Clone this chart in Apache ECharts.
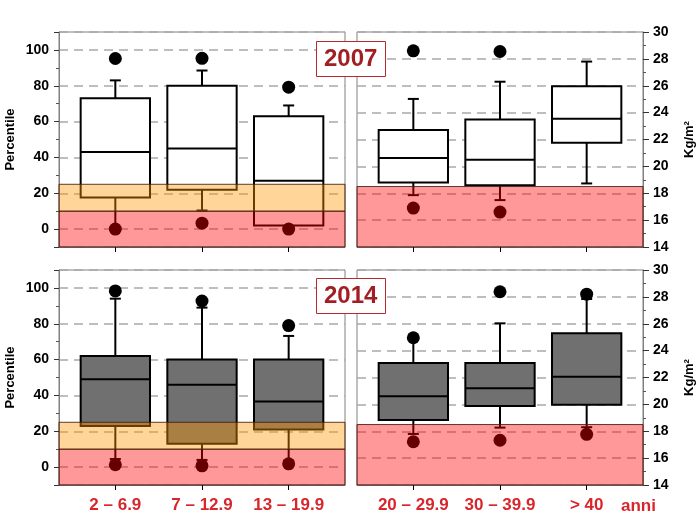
<!DOCTYPE html>
<html>
<head>
<meta charset="utf-8">
<script src="https://cdn.jsdelivr.net/npm/echarts@6.0.0/dist/echarts.min.js"></script>
<style>
html,body{margin:0;padding:0;background:#fff;}
#chart{width:696px;height:518px;}
</style>
</head>
<body>
<div id="chart"></div>
<script>
// ---------- DATA ----------
const categoriesLeft = ['2 \u2013 6.9', '7 \u2013 12.9', '13 \u2013 19.9'];
const categoriesRight = ['20 \u2013 29.9', '30 \u2013 39.9', '> 40'];
const unitLabel = 'anni';
const years = ['2007', '2014'];

// box stats: [min, q1, median, q3, max]
const box2007Pct = [
  [1, 17.6, 43, 73, 83],
  [10.4, 22, 45, 80, 88.5],
  [0.5, 2, 27, 63, 69]
];
const box2007Bmi = [
  [17.86, 18.8, 20.62, 22.71, 25.02],
  [17.49, 18.6, 20.5, 23.48, 26.3],
  [18.73, 21.76, 23.55, 25.97, 27.8]
];
const box2014Pct = [
  [4.5, 22.9, 49, 62, 94],
  [4, 13, 46, 60, 89],
  [3.5, 21, 36.6, 60, 73.2]
];
const box2014Bmi = [
  [17.8, 18.84, 20.6, 23.08, 24.8],
  [18.27, 19.88, 21.2, 23.08, 26.03],
  [18.3, 19.98, 22.05, 25.29, 27.84]
];

// outliers: [category position (1..3), value]
const outliers2007Pct = [[1, 95.2], [1, 0], [2, 95.3], [2, 3.3], [3, 79.2], [3, 0]];
const outliers2007Bmi = [[1, 28.6], [1, 16.9], [2, 28.55], [2, 16.6]];
const outliers2014Pct = [[1, 98.3], [1, 1.3], [2, 92.7], [2, 0.7], [3, 79], [3, 1.8]];
const outliers2014Bmi = [[1, 24.96], [1, 17.22], [2, 28.38], [2, 17.33], [3, 28.2], [3, 17.77]];

// reference bands: [low, high]
const redBandPct = [-10, 10];
const orangeBandPct = [10, 25];
const redBandBmi = [14, 18.5];

// axis ranges / ticks
const pctRange = [-10, 110];
const bmiRange = [14, 30];
const bmiStep = 2;
const pctStep = 20;
const catPositions = [1, 2, 3];
const xRange = [0.35, 3.65];

// ---------- STYLE ----------
const FONT = '"Liberation Sans", Arial, Helvetica, sans-serif';
const RED_LABEL = '#D8262C';
const TITLE_RED = '#A11F23';
const FRAME = '#808080';
const GRID_DASH = '#A9A9A9';
const RED_BAND = 'rgba(255,0,0,0.40)';
const ORANGE_BAND = 'rgba(255,150,0,0.40)';
const BAND_STROKE = 'rgba(70,25,10,0.85)';
const BOX_WIDTH = 0.8;

function boxRenderer(fill) {
  return function (params, api) {
    const x = api.value(0);
    const c = (v) => api.coord([x, v]);
    const pMin = c(api.value(1)), pQ1 = c(api.value(2)), pMed = c(api.value(3)),
          pQ3 = c(api.value(4)), pMax = c(api.value(5));
    const cx = pMin[0];
    const hw = api.size([BOX_WIDTH, 0])[0] / 2;
    const cap = 5.5;
    const ls = { stroke: '#000', lineWidth: 2 };
    return {
      type: 'group',
      children: [
        { type: 'line', shape: { x1: cx, y1: pMax[1], x2: cx, y2: pQ3[1] }, style: ls },
        { type: 'line', shape: { x1: cx - cap, y1: pMax[1], x2: cx + cap, y2: pMax[1] }, style: ls },
        { type: 'line', shape: { x1: cx, y1: pQ1[1], x2: cx, y2: pMin[1] }, style: ls },
        { type: 'line', shape: { x1: cx - cap, y1: pMin[1], x2: cx + cap, y2: pMin[1] }, style: ls },
        { type: 'rect', shape: { x: cx - hw, y: pQ3[1], width: 2 * hw, height: pQ1[1] - pQ3[1] },
          style: { fill: fill, stroke: '#000', lineWidth: 2 } },
        { type: 'line', shape: { x1: cx - hw, y1: pMed[1], x2: cx + hw, y2: pMed[1] }, style: ls }
      ]
    };
  };
}

function bandRenderer(color) {
  return function (params, api) {
    const cs = params.coordSys;
    const yHigh = api.coord([api.value(0), api.value(2)])[1];
    const yLow = api.coord([api.value(0), api.value(1)])[1];
    return {
      type: 'rect',
      shape: { x: cs.x, y: yHigh, width: cs.width, height: yLow - yHigh },
      style: { fill: color, stroke: BAND_STROKE, lineWidth: 1 }
    };
  };
}

const grids = [
  { left: 59, top: 32 }, { left: 357, top: 32 },
  { left: 59, top: 270 }, { left: 357, top: 270 }
].map(g => Object.assign({
  width: 286, height: 215, show: true, borderColor: FRAME, borderWidth: 1,
  backgroundColor: '#fff', containLabel: false, outerBoundsMode: 'none'
}, g));

const xAxes = [0, 1, 2, 3].map(i => ({
  gridIndex: i, type: 'value', min: xRange[0], max: xRange[1],
  axisLine: { show: true, onZero: false, lineStyle: { color: FRAME, width: 1 } },
  axisTick: { show: true, customValues: catPositions, length: 5, inside: false,
    lineStyle: { color: '#000', width: 1 } },
  axisLabel: {
    show: i >= 2, customValues: catPositions, margin: 12,
    color: RED_LABEL, fontSize: 17, fontWeight: 'bold', fontFamily: FONT,
    formatter: (v) => (i % 2 === 0 ? categoriesLeft : categoriesRight)[Math.round(v) - 1] || ''
  },
  splitLine: { show: false }
}));

function pctAxis(i) {
  return {
    gridIndex: i, type: 'value', position: 'left', min: pctRange[0], max: pctRange[1],
    splitNumber: 6, minInterval: pctStep, maxInterval: pctStep,
    axisLine: { show: true, lineStyle: { color: FRAME } },
    axisTick: { show: true, length: 5, lineStyle: { color: '#333' } },
    minorTick: { show: true, splitNumber: 2, length: 3, lineStyle: { color: '#555' } },
    axisLabel: { showMinLabel: false, showMaxLabel: false, fontWeight: 'bold', fontSize: 14,
      color: '#000', margin: 10, fontFamily: FONT },
    splitLine: { show: true, lineStyle: { color: GRID_DASH, type: [9, 6], width: 1.5 } },
    name: 'Percentile', nameLocation: 'middle', nameGap: 42,
    nameTextStyle: { fontWeight: 'bold', fontSize: 13, color: '#000', fontFamily: FONT }
  };
}
function bmiAxis(i) {
  return {
    gridIndex: i, type: 'value', position: 'right', min: bmiRange[0], max: bmiRange[1],
    interval: bmiStep,
    axisLine: { show: true, lineStyle: { color: FRAME } },
    axisTick: { show: true, length: 6, lineStyle: { color: '#333' } },
    minorTick: { show: true, splitNumber: 2, length: 3, lineStyle: { color: '#555' } },
    axisLabel: { fontWeight: 'bold', fontSize: 14, color: '#000', margin: 10, fontFamily: FONT },
    splitLine: { show: true, lineStyle: { color: GRID_DASH, type: [9, 6], width: 1.5 } },
    name: 'Kg/m\u00B2', nameLocation: 'middle', nameGap: 40,
    nameTextStyle: { fontWeight: 'bold', fontSize: 13, color: '#000', fontFamily: FONT }
  };
}
const yAxes = [pctAxis(0), bmiAxis(1), pctAxis(2), bmiAxis(3)];

const panels = [
  { boxes: box2007Pct, outliers: outliers2007Pct, fill: '#ffffff', bands: [[redBandPct, RED_BAND], [orangeBandPct, ORANGE_BAND]] },
  { boxes: box2007Bmi, outliers: outliers2007Bmi, fill: '#ffffff', bands: [[redBandBmi, RED_BAND]] },
  { boxes: box2014Pct, outliers: outliers2014Pct, fill: '#707070', bands: [[redBandPct, RED_BAND], [orangeBandPct, ORANGE_BAND]] },
  { boxes: box2014Bmi, outliers: outliers2014Bmi, fill: '#707070', bands: [[redBandBmi, RED_BAND]] }
];

const series = [];
panels.forEach((p, i) => {
  series.push({
    type: 'custom', xAxisIndex: i, yAxisIndex: i, z: 2,
    renderItem: boxRenderer(p.fill),
    encode: { x: 0, y: [1, 2, 3, 4, 5] },
    data: p.boxes.map((b, k) => [catPositions[k]].concat(b))
  });
  series.push({
    type: 'scatter', xAxisIndex: i, yAxisIndex: i, z: 3,
    symbol: 'circle', symbolSize: 13,
    itemStyle: { color: '#000', opacity: 1 },
    emphasis: { disabled: true },
    data: p.outliers
  });
  p.bands.forEach(([band, color]) => {
    series.push({
      type: 'custom', xAxisIndex: i, yAxisIndex: i, z: 5,
      renderItem: bandRenderer(color),
      encode: { x: 0, y: [1, 2] },
      data: [[catPositions[1], band[0], band[1]]]
    });
  });
});

const titleStyle = {
  padding: [6, 8], borderColor: '#B52A2E', borderWidth: 1, backgroundColor: '#fff',
  textStyle: { color: TITLE_RED, fontSize: 24, fontWeight: 'bold', fontFamily: FONT }
};

const option = {
  animation: false,
  backgroundColor: '#fff',
  textStyle: { fontFamily: FONT },
  title: [
    Object.assign({ text: years[0], left: 316, top: 41, z: 10 }, titleStyle),
    Object.assign({ text: years[1], left: 316, top: 278, z: 10 }, titleStyle)
  ],
  grid: grids,
  xAxis: xAxes,
  yAxis: yAxes,
  graphic: [{
    type: 'text', left: 621, top: 498, z: 10,
    style: { text: unitLabel, fill: RED_LABEL, font: 'bold 17px ' + FONT }
  }],
  series: series
};

const chart = echarts.init(document.getElementById('chart'), null, { renderer: 'canvas' });
chart.setOption(option);
</script>
</body>
</html>
